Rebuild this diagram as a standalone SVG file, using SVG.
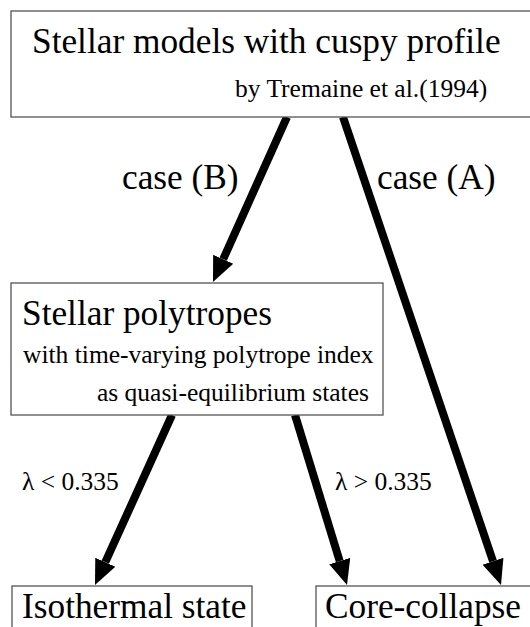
<svg xmlns="http://www.w3.org/2000/svg" width="530" height="627" viewBox="0 0 530 627">
<defs>
<style>
.box{fill:#fff;stroke:#555;stroke-width:1.3}
text{font-family:'Liberation Serif','Times New Roman',serif;fill:#000}
.big{font-size:35.3px}
.small{font-size:25.5px}
.arr{stroke:#000;stroke-width:8;fill:none}
</style>
<marker id="ah" markerUnits="userSpaceOnUse" markerWidth="26" markerHeight="24" refX="0" refY="11" orient="auto" viewBox="0 0 26 22">
<path d="M0,0 L25,11 L0,22 Z" fill="#000"/>
</marker>
</defs>
<rect width="530" height="627" fill="#fff"/>
<g id="connectors">
<line class="arr" x1="287" y1="117" x2="223.2" y2="259.2" marker-end="url(#ah)"/>
<line class="arr" x1="343" y1="117" x2="493" y2="561.3" marker-end="url(#ah)"/>
<line class="arr" x1="172" y1="415" x2="105.3" y2="562.2" marker-end="url(#ah)"/>
<line class="arr" x1="295" y1="415" x2="339.7" y2="561.1" marker-end="url(#ah)"/>
</g>
<g id="top">
<rect class="box" x="11" y="11" width="530" height="106"/>
<text class="big" x="32" y="53">Stellar models with cuspy profile</text>
<text class="small" x="235" y="97">by Tremaine et al.(1994)</text>
</g>
<g id="labels">
<text class="big" x="122" y="189">case (B)</text>
<text class="big" x="377" y="189">case (A)</text>
<text class="small" x="22" y="490">λ &lt; 0.335</text>
<text class="small" x="335" y="490">λ &gt; 0.335</text>
</g>
<g id="polytropes">
<rect class="box" x="11" y="283" width="372" height="132"/>
<text class="big" x="22" y="325">Stellar polytropes</text>
<text class="small" x="23" y="363">with time-varying polytrope index</text>
<text class="small" x="97" y="401">as quasi-equilibrium states</text>
</g>
<g id="isothermal">
<rect class="box" x="12" y="586" width="240" height="60"/>
<text class="big" x="22" y="618">Isothermal state</text>
</g>
<g id="corecollapse">
<rect class="box" x="316" y="586" width="230" height="60"/>
<text class="big" x="325" y="618">Core-collapse</text>
</g>
</svg>
